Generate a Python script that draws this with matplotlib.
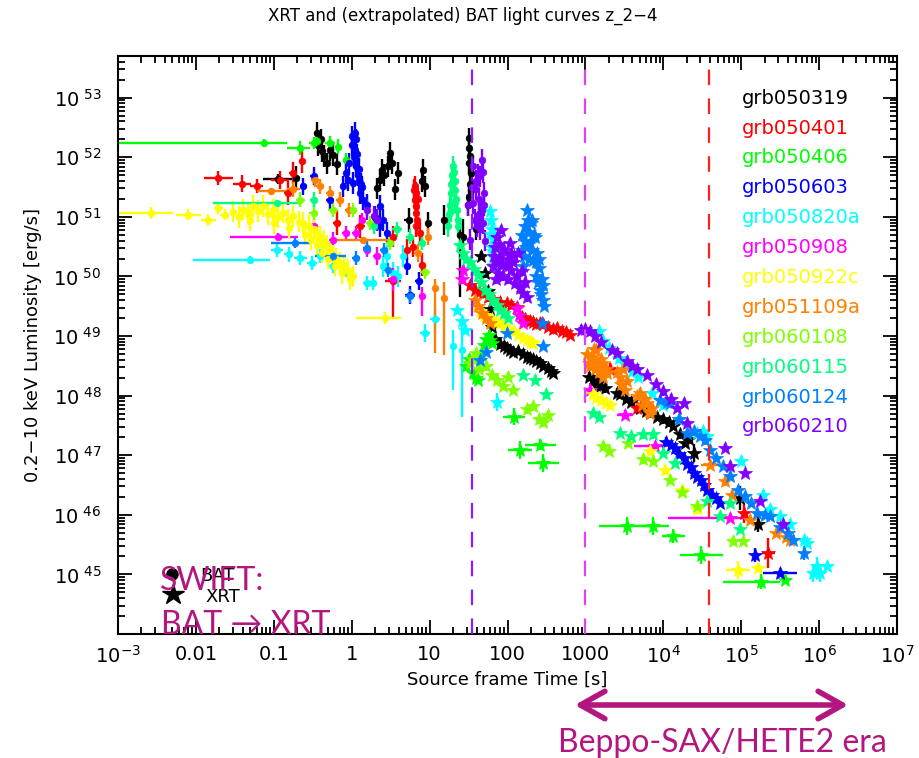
import numpy as np
import matplotlib
matplotlib.use("Agg")
import matplotlib.pyplot as plt
from matplotlib.ticker import LogLocator, NullFormatter
from matplotlib.patches import FancyArrowPatch

plt.rcParams['font.family'] = ['DejaVu Sans']
plt.rcParams['mathtext.fontset'] = 'dejavusans'

# ---------------- data (log10 t [s], log10 L [erg/s], errors in dex) ----------------
names = ['grb050319', 'grb050401', 'grb050406', 'grb050603', 'grb050820a', 'grb050908',
         'grb050922c', 'grb051109a', 'grb060108', 'grb060115', 'grb060124', 'grb060210']
colors = ['#000000', '#ff0000', '#00ff00', '#0000ff', '#00ffff', '#ff00ff',
          '#ffff00', '#ff8000', '#80ff00', '#00ff80', '#0080ff', '#8000ff']

BAT_050319 = [(-0.95, 51.64, 0.19, 0.25, 0.08), (-0.71, 51.65, 0.05, 0.05, 0.2),
              (-0.45, 52.41), (-0.43, 52.21), (-0.40, 52.30), (-0.385, 52.10), (-0.35, 52.02),
              (-0.32, 51.90), (-0.28, 52.12), (-0.24, 52.04), (-0.19, 51.88),
              (0.32, 51.48), (0.36, 51.62), (0.385, 51.79), (0.42, 51.70), (0.46, 51.85),
              (0.49, 52.08), (0.52, 51.90), (0.556, 51.46), (0.60, 51.74),
              (0.73, 50.95, 0.06, 0.06, 0.2), (0.90, 51.60), (0.92, 51.79), (0.94, 51.51),
              (0.98, 50.90), (1.18, 50.95, 0.04, 0.04, 0.25),
              (1.39, 50.70, 0.03, 0.03, 1.05, 0.2), (1.43, 50.67, 0.03, 0.03, 0.3),
              (1.49, 51.20), (1.50, 51.34), (1.51, 52.32), (1.52, 52.02), (1.52, 51.55),
              (1.53, 51.74), (1.51, 52.15), (1.50, 51.90), (1.53, 51.45), (1.60, 50.79)]
XRT_050319 = [(1.66, 50.35), (1.71, 50.05), (1.75, 49.75), (1.78, 49.45), (1.80, 49.15),
              (1.84, 48.95), (1.90, 48.86), (1.95, 48.84), (1.99, 48.80), (2.03, 48.77),
              (2.07, 48.74), (2.14, 48.75), (2.20, 48.70), (2.25, 48.65), (2.29, 48.63),
              (2.33, 48.62), (2.37, 48.58), (2.42, 48.55), (2.46, 48.50), (2.52, 48.46),
              (2.56, 48.42), (2.59, 48.38),
              (3.05, 48.32), (3.10, 48.27), (3.13, 48.18), (3.15, 48.22), (3.19, 48.16),
              (3.25, 48.12), (3.40, 48.05), (3.44, 48.02), (3.52, 47.95), (3.59, 47.90),
              (3.70, 47.80), (3.78, 47.74), (3.83, 47.71), (3.92, 47.65), (4.00, 47.60),
              (4.07, 47.55), (4.13, 47.49), (4.22, 47.35), (4.28, 47.21), (4.33, 47.28),
              (4.39, 47.04, 0.03, 0.15), (4.98, 46.28, 0.03, 0.2), (5.22, 45.84, 0.04, 0.12)]

BAT_050401 = [(-1.71, 51.65, 0.19, 0.19, 0.12), (-1.41, 51.56, 0.12, 0.12, 0.14),
              (-1.22, 51.52, 0.08, 0.08, 0.12), (-0.92, 51.62, 0.12, 0.12, 0.15),
              (-0.82, 51.40, 0.05, 0.05, 0.2), (-0.75, 51.74, 0.05, 0.05, 0.18),
              (-0.64, 51.93, 0.04, 0.04, 0.2), (-0.19, 50.90, 0.05, 0.05, 0.2),
              (0.11, 50.84, 0.06, 0.06, 0.2), (0.53, 50.67),
              (0.53, 49.92, 0.1, 0.1, 0.6, 0.15), (0.71, 50.45), (0.79, 50.50),
              (0.80, 51.45), (0.81, 51.51), (0.81, 51.29), (0.82, 51.40), (0.82, 51.18),
              (0.83, 51.07), (0.83, 50.84), (0.84, 50.95), (0.85, 51.30), (0.88, 50.73),
              (0.90, 50.20, 0.03, 0.03, 0.2)]
XRT_050401 = [(1.52, 49.86), (1.58, 49.78), (1.64, 49.74), (1.69, 49.72), (1.75, 49.65),
              (1.82, 49.62), (1.90, 49.58), (1.99, 49.55), (2.05, 49.52), (2.12, 49.48),
              (2.18, 49.32), (2.22, 49.28), (2.29, 49.26), (2.33, 49.24), (2.37, 49.20),
              (2.42, 49.22), (2.46, 49.20), (2.52, 49.15), (2.58, 49.12), (2.63, 49.14),
              (2.70, 49.08), (2.75, 49.06), (2.80, 49.02),
              (3.32, 48.44, 0.04, 0.1), (3.66, 47.79, 0.04, 0.1),
              (5.03, 46.03, 0.05, 0.17), (5.35, 45.36, 0.08, 0.25)]

BAT_050406 = [(-1.13, 52.24, 2.2, 0.30, 0.06), (-0.66, 52.16, 0.17, 0.12, 0.12),
              (-0.49, 52.24, 0.06, 0.06, 0.1), (-0.45, 52.27, 0.05, 0.05, 0.1),
              (-0.28, 52.24, 0.06, 0.06, 0.12), (-0.17, 52.18, 0.04, 0.04, 0.12),
              (-0.07, 51.96, 0.04, 0.04, 0.12)]
XRT_050406 = [(1.47, 48.49), (1.50, 48.62), (1.52, 48.55), (1.56, 48.38), (1.60, 48.30),
              (1.62, 48.27), (1.66, 48.70), (1.70, 48.85), (1.73, 48.95), (1.76, 49.02),
              (1.78, 48.94), (1.80, 48.88),
              (2.08, 47.65, 0.14, 0.14), (2.16, 47.09, 0.15, 0.15), (2.42, 47.18, 0.2, 0.1),
              (2.46, 46.87, 0.2, 0.15), (3.53, 45.81, 0.35, 0.15), (3.87, 45.81, 0.2, 0.15),
              (4.13, 45.64, 0.15, 0.12), (4.49, 45.33, 0.28, 0.15), (5.26, 44.88, 0.49, 0.24, 0.12),
              (5.56, 44.91, 0.04, 0.05)]

BAT_050603 = [(-0.62, 51.51, 0.05, 0.05, 0.15), (-0.49, 51.68, 0.05, 0.05, 0.15),
              (-0.28, 51.29, 0.05, 0.05, 0.15), (-0.11, 51.51), (-0.07, 51.74), (-0.03, 51.90),
              (0.00, 52.20), (0.02, 51.57), (0.03, 52.00), (0.04, 52.41), (0.04, 52.13),
              (0.05, 52.30), (0.06, 51.85), (0.07, 52.05), (0.08, 51.70), (0.10, 51.62),
              (0.11, 51.40), (0.13, 51.50), (0.15, 51.29), (0.20, 51.20), (0.30, 51.00),
              (0.01, 52.35), (0.05, 51.95), (0.09, 51.80), (0.12, 51.55), (-0.05, 51.62),
              (0.36, 51.18), (0.36, 50.84), (0.40, 50.95), (0.45, 50.73),
              (0.71, 50.17, 0.05, 0.05, 0.15), (0.75, 49.69, 0.06, 0.06, 0.15),
              (0.86, 49.92, 0.05, 0.05, 0.15)]
XRT_050603 = [(4.04, 47.23), (4.10, 47.18), (4.15, 47.12), (4.20, 47.02), (4.26, 46.95),
              (4.30, 46.85), (4.36, 46.81), (4.40, 46.70), (4.43, 46.64), (4.48, 46.58),
              (4.52, 46.50), (4.56, 46.42), (4.62, 46.34), (4.68, 46.28), (4.73, 46.20),
              (5.18, 45.33, 0.04, 0.12), (5.50, 45.03, 0.22, 0.05)]

BAT_050820a = [(-1.31, 50.28, 0.73, 0.26, 0.06), (-0.96, 50.45, 0.08, 0.08, 0.12),
               (-0.81, 50.37, 0.06, 0.06, 0.12), (-0.66, 50.31, 0.08, 0.08, 0.12),
               (-0.51, 50.23, 0.06, 0.06, 0.12), (-0.41, 50.34, 0.06, 0.06, 0.12),
               (-0.24, 50.17, 0.06, 0.06, 0.12), (-0.07, 50.11, 0.06, 0.06, 0.12),
               (0.19, 49.89, 0.05, 0.05, 0.12), (0.27, 49.89, 0.05, 0.05, 0.12),
               (0.40, 50.17), (0.45, 50.34), (0.53, 50.06), (0.60, 50.00), (0.66, 50.34),
               (0.94, 49.05, 0.06, 0.06, 0.15), (1.07, 49.28, 0.06, 0.06, 0.2),
               (1.30, 48.83, 0.03, 0.03, 0.73, 0.27), (1.41, 48.77, 0.03, 0.03, 1.12, 0.48)]
XRT_050820a = [(1.35, 49.44), (1.41, 49.25), (1.45, 49.10), (1.78, 51.10), (1.79, 50.95),
               (1.80, 50.80), (1.81, 50.65), (1.80, 50.50), (1.82, 50.35), (1.83, 50.20),
               (1.79, 50.72), (1.81, 50.42), (1.86, 47.90, 0.03, 0.15),
               (3.17, 49.08), (3.23, 48.91), (3.30, 48.80), (3.43, 48.63), (3.49, 48.55),
               (3.60, 48.42), (3.68, 48.32), (3.85, 48.05), (4.00, 47.85), (4.20, 47.60),
               (4.43, 47.37), (4.51, 47.40), (4.56, 47.32), (5.00, 46.90), (5.28, 46.34),
               (5.37, 46.09), (5.50, 45.98), (5.63, 45.84), (5.80, 45.58), (5.84, 45.53),
               (5.92, 45.03, 0.03, 0.15), (5.97, 45.14, 0.03, 0.15), (6.01, 45.03, 0.03, 0.15),
               (6.10, 45.14)]

BAT_050908 = [(-0.94, 50.67, 0.62, 0.25, 0.06), (-0.49, 50.84, 0.05, 0.05, 0.12),
              (-0.24, 50.62, 0.05, 0.05, 0.12), (-0.07, 50.73, 0.05, 0.05, 0.12),
              (0.06, 50.73, 0.05, 0.05, 0.12), (0.13, 50.95, 0.04, 0.04, 0.12),
              (0.19, 50.45, 0.05, 0.05, 0.12), (0.32, 50.34, 0.05, 0.05, 0.15),
              (0.53, 49.95, 0.06, 0.06, 0.2), (0.90, 49.67, 0.03, 0.03, 0.34, 0.16)]
XRT_050908 = [(1.41, 49.95), (1.43, 50.11), (2.12, 49.47), (2.15, 49.35), (2.20, 49.22),
              (3.06, 48.10, 0.06, 0.08), (3.51, 47.68, 0.1, 0.08),
              (3.89, 47.15, 0.27, 0.16, 0.06), (4.86, 45.95, 0.80, 0.25, 0.06)]

BAT_050922c = [(-2.57, 51.07, 0.45, 0.28, 0.1), (-2.10, 51.04, 0.16, 0.16, 0.1),
               (-1.84, 50.95, 0.1, 0.1, 0.1), (-1.71, 51.15, 0.06, 0.06, 0.1),
               (-1.63, 51.04, 0.06, 0.06, 0.1), (-1.52, 51.09), (-1.45, 51.00), (-1.40, 51.12),
               (-1.33, 51.05), (-1.27, 51.18), (-1.20, 51.10), (-1.14, 51.18), (-1.08, 51.05),
               (-1.01, 51.12), (-0.95, 51.00), (-0.88, 51.07), (-0.82, 50.95), (-0.75, 51.01),
               (-0.68, 50.92), (-0.62, 50.90), (-0.55, 50.85), (-0.49, 50.79), (-0.45, 50.70),
               (-0.41, 50.67), (-0.36, 50.60), (-0.32, 50.51), (-0.28, 50.42), (-0.24, 50.34),
               (-0.20, 50.30), (-0.15, 50.23), (-0.10, 50.18), (-0.05, 50.11), (0.02, 50.00),
               (-0.60, 50.70), (-0.52, 50.62), (-0.44, 50.52), (-0.38, 50.40), (-0.30, 50.30),
               (-0.22, 50.18), (-0.12, 50.05), (-0.02, 49.95), (-1.30, 50.95), (-1.00, 50.90),
               (-0.80, 50.82), (0.43, 49.30, 0.38, 0.20, 0.1)]
XRT_050922c = [(1.60, 49.50), (1.65, 49.42), (1.70, 49.36), (1.73, 49.33), (1.80, 49.28),
               (1.86, 49.24), (1.90, 49.22), (1.95, 49.17), (2.00, 49.12), (2.08, 49.08),
               (2.14, 49.02), (2.20, 48.97), (2.25, 48.94), (2.30, 48.90), (2.33, 48.88),
               (3.10, 48.02), (3.14, 47.96), (3.20, 47.92), (3.27, 47.88), (3.32, 47.84),
               (3.83, 47.07), (4.02, 46.76), (4.24, 46.42), (4.43, 46.09),
               (4.96, 45.08, 0.15, 0.15), (5.22, 45.11)]

BAT_051109a = [(-1.03, 51.43, 0.19, 0.19, 0.06), (-0.75, 51.46, 0.08, 0.08, 0.12),
               (-0.47, 51.62, 0.05, 0.05, 0.12), (-0.41, 51.51, 0.05, 0.05, 0.12),
               (-0.28, 51.40, 0.05, 0.05, 0.12), (-0.15, 51.29, 0.05, 0.05, 0.12),
               (-0.03, 51.12, 0.05, 0.05, 0.12), (0.15, 50.62, 0.39, 0.38, 0.05),
               (0.85, 50.40, 0.05, 0.05, 0.15), (0.98, 50.67, 0.04, 0.04, 0.15),
               (1.07, 49.81, 0.03, 0.03, 1.1, 0.15), (1.18, 49.64, 0.03, 0.03, 0.95, 0.26)]
XRT_051109a = [(1.58, 49.61), (1.62, 49.50), (1.67, 49.39), (1.72, 49.30), (1.78, 49.22),
               (3.02, 48.70), (3.04, 48.55), (3.06, 48.49), (3.08, 48.65), (3.10, 48.60),
               (3.11, 48.78), (3.12, 48.45), (3.14, 48.77), (3.16, 48.50), (3.18, 48.40),
               (3.20, 48.62), (3.22, 48.55), (3.23, 48.32), (3.26, 48.45), (3.28, 48.38),
               (3.40, 48.40), (3.44, 48.32), (3.46, 48.20), (3.48, 48.45), (3.51, 48.10),
               (3.54, 48.25), (3.66, 47.99), (3.70, 48.05), (3.73, 47.85), (3.76, 47.95),
               (3.79, 47.88), (3.82, 47.75), (3.83, 47.71), (3.86, 47.80),
               (4.60, 46.84, 0.12, 0.05), (4.79, 46.56), (4.88, 46.34), (5.11, 45.92),
               (5.45, 45.70), (5.58, 45.62), (5.63, 45.58)]

BAT_060108 = [(-0.66, 51.29, 0.06, 0.06, 0.12), (-0.49, 51.07, 0.06, 0.06, 0.12),
              (-0.24, 51.12, 0.06, 0.06, 0.12), (0.02, 51.12, 0.05, 0.05, 0.12),
              (0.23, 50.90, 0.05, 0.05, 0.12), (0.49, 50.56, 0.05, 0.05, 0.12),
              (0.94, 50.08, 0.06, 0.06, 0.12)]
XRT_060108 = [(1.52, 48.55), (1.56, 48.62), (1.60, 48.71), (1.64, 48.45), (1.73, 48.49),
              (1.80, 48.35), (1.86, 48.27), (1.94, 48.16), (2.01, 48.32), (2.07, 48.10),
              (2.25, 47.77), (2.33, 47.82), (2.40, 47.60), (2.46, 47.55), (2.52, 47.68),
              (3.23, 47.15), (3.30, 47.07), (3.55, 47.21), (3.74, 46.93), (3.87, 46.90),
              (4.09, 46.59), (4.24, 46.39), (4.43, 46.14), (4.90, 45.56), (5.02, 45.56)]

BAT_060115 = [(-0.96, 51.23, 0.82, 0.30, 0.05), (-0.49, 51.29, 0.05, 0.05, 0.12),
              (0.28, 50.84, 0.06, 0.06, 0.12), (0.58, 50.79, 0.06, 0.06, 0.12),
              (0.75, 50.67, 0.05, 0.05, 0.12), (0.90, 50.56, 0.05, 0.05, 0.12),
              (1.24, 50.85), (1.25, 51.05), (1.26, 51.20), (1.27, 51.40), (1.28, 51.55),
              (1.29, 51.70), (1.30, 51.85), (1.31, 51.75), (1.32, 51.60), (1.33, 51.45),
              (1.34, 51.30), (1.35, 51.12), (1.36, 50.95), (1.37, 50.85), (1.28, 51.10),
              (1.32, 51.25)]
XRT_060115 = [(1.39, 50.53), (1.43, 50.40), (1.47, 50.30), (1.52, 50.25), (1.57, 50.12),
              (1.62, 50.03), (1.66, 49.90), (1.71, 49.78), (1.76, 49.70), (1.81, 49.61),
              (1.86, 49.52), (1.90, 49.44), (1.95, 49.38), (2.01, 49.31),
              (2.20, 48.35), (2.35, 48.27), (2.50, 48.02), (3.10, 47.71), (3.17, 47.65),
              (3.44, 47.37), (3.59, 47.32), (3.74, 47.35), (3.87, 47.35), (4.00, 47.04),
              (4.15, 46.87), (4.56, 46.23), (4.73, 45.98), (4.86, 46.20), (4.98, 45.76)]

BAT_060124 = [(-0.73, 50.56, 0.30, 0.20, 0.08), (-0.24, 50.34, 0.23, 0.17, 0.08),
              (0.06, 50.31, 0.05, 0.05, 0.12), (0.19, 50.48, 0.05, 0.05, 0.12),
              (0.41, 50.45, 0.05, 0.05, 0.12), (0.47, 50.11, 0.05, 0.05, 0.12),
              (0.75, 49.67, 0.06, 0.06, 0.12)]
XRT_060124 = [(1.65, 48.60), (1.73, 48.74), (1.99, 49.05), (2.46, 48.83),
              (2.18, 50.45), (2.19, 50.70), (2.20, 50.17), (2.21, 50.35), (2.22, 50.60),
              (2.23, 50.84), (2.24, 50.50), (2.25, 51.12), (2.26, 50.95), (2.27, 50.30),
              (2.28, 50.75), (2.29, 50.56), (2.30, 50.90), (2.31, 50.95), (2.32, 50.45),
              (2.33, 50.28), (2.34, 50.70), (2.35, 50.67), (2.36, 50.25), (2.37, 50.00),
              (2.38, 50.40), (2.39, 49.90), (2.40, 50.15), (2.41, 50.30), (2.42, 49.78),
              (2.43, 49.70), (2.44, 49.95), (2.45, 49.85), (2.46, 49.61), (2.47, 49.50),
              (2.44, 49.22),
              (3.96, 47.93), (4.05, 47.90), (4.09, 47.88), (4.20, 47.60), (4.30, 47.37),
              (4.40, 47.40), (4.47, 47.32), (4.53, 47.25), (4.60, 47.09), (4.68, 46.95),
              (4.77, 46.82), (4.85, 46.65), (4.96, 46.42), (5.05, 46.31), (5.12, 46.20),
              (5.20, 46.03), (5.30, 46.00), (5.37, 45.98), (5.50, 45.80), (5.60, 45.70),
              (5.67, 45.58), (5.80, 45.36, 0.03, 0.12)]

BAT_060210 = [(0.19, 51.12), (0.28, 51.01), (0.33, 50.95),
              (1.49, 51.20), (1.52, 50.62), (1.54, 51.50), (1.56, 51.85), (1.56, 51.23),
              (1.58, 50.95), (1.60, 51.46), (1.62, 51.70), (1.64, 51.30), (1.65, 51.68),
              (1.65, 50.79), (1.66, 51.10), (1.67, 51.96), (1.67, 51.12), (1.69, 50.90),
              (1.70, 51.40), (1.71, 50.60), (1.59, 51.60), (1.63, 51.05), (1.68, 51.75),
              (1.61, 50.85), (1.70, 51.20)]
XRT_060210 = [(1.82, 50.17), (1.83, 50.35), (1.84, 50.50), (1.85, 49.95), (1.86, 50.67),
              (1.87, 50.25), (1.88, 50.05), (1.89, 50.55), (1.90, 50.34), (1.92, 50.78),
              (1.93, 50.20), (1.94, 50.00), (1.96, 50.45), (1.98, 50.20), (2.00, 49.95),
              (2.01, 50.30), (2.03, 50.56), (2.04, 50.40), (2.05, 50.11), (2.07, 50.25),
              (2.08, 50.34), (2.10, 49.89), (2.12, 50.00), (2.14, 50.40), (2.16, 49.80),
              (2.18, 50.10), (2.20, 49.72), (2.22, 49.90), (2.25, 49.65),
              (2.94, 49.11), (3.00, 49.12), (3.06, 49.08), (3.12, 49.00), (3.20, 48.90),
              (3.34, 48.77), (3.40, 48.72), (3.53, 48.58), (3.60, 48.50), (3.66, 48.44),
              (3.79, 48.35), (3.90, 48.20), (4.00, 48.07), (4.10, 47.95), (4.17, 47.79),
              (4.26, 47.88), (4.30, 47.54), (4.79, 47.12), (4.86, 46.82), (5.05, 46.70),
              (5.24, 46.23), (5.54, 45.84)]

bat_sets = [BAT_050319, BAT_050401, BAT_050406, BAT_050603, BAT_050820a, BAT_050908,
            BAT_050922c, BAT_051109a, BAT_060108, BAT_060115, BAT_060124, BAT_060210]
xrt_sets = [XRT_050319, XRT_050401, XRT_050406, XRT_050603, XRT_050820a, XRT_050908,
            XRT_050922c, XRT_051109a, XRT_060108, XRT_060115, XRT_060124, XRT_060210]

vlines_t = [35.0, 1000.0, 3.9e4]
vlines_c = ['#8a1cff', '#e040f0', '#ff2020']

xtick_labels = [r'$10^{-3}$', '0.01', '0.1', '1', '10', '100', '1000',
                r'$10^4$', r'$10^5$', r'$10^6$', r'$10^7$']
ytick_exps = [45, 46, 47, 48, 49, 50, 51, 52, 53]

ANN = '#b3177f'


def unpack(rows, dex, dey):
    out = []
    for r in rows:
        if len(r) == 2:
            out.append((r[0], r[1], dex, dex, dey, dey))
        elif len(r) == 4:
            out.append((r[0], r[1], r[2], r[2], r[3], r[3]))
        elif len(r) == 5:
            out.append((r[0], r[1], r[2], r[3], r[4], r[4]))
        else:
            out.append(tuple(r))
    return np.array(out).T


fig = plt.figure(figsize=(9.2, 7.58), dpi=100)
ax = fig.add_axes([118 / 920, 1 - 634 / 758, 779 / 920, 578 / 758])
ax.set_xscale('log')
ax.set_yscale('log')


def draw(rows, color, marker, ms, dex, dey):
    lt, lL, exm, exp_, eym, eyp = unpack(rows, dex, dey)
    t = 10 ** lt
    L = 10 ** lL
    ax.errorbar(t, L,
                xerr=[t - 10 ** (lt - exm), 10 ** (lt + exp_) - t],
                yerr=[L - 10 ** (lL - eym), 10 ** (lL + eyp) - L],
                fmt=marker, ms=ms, color=color, mec=color, mfc=color, mew=0.5,
                elinewidth=1.7, capsize=0, ls='none')


for bat, xrt, c in zip(bat_sets, xrt_sets, colors):
    draw(bat, c, 'o', 4.8, 0.03, 0.18)
    draw(xrt, c, '*', 10, 0.03, 0.07)

for t, c in zip(vlines_t, vlines_c):
    ax.axvline(t, color=c, lw=1.6, ls=(0, (7, 6)), zorder=5)

ax.set_xlim(1e-3, 1e7)
ax.set_ylim(1e44, 10 ** 53.7)

ax.set_xticks(10.0 ** np.arange(-3, 8))
ax.set_xticklabels(xtick_labels)
ax.set_yticks([10.0 ** e for e in ytick_exps])
ax.set_yticklabels([r'$10^{\ %d}$' % e for e in ytick_exps])
ax.xaxis.set_minor_locator(LogLocator(base=10, subs=np.arange(2, 10), numticks=100))
ax.yaxis.set_minor_locator(LogLocator(base=10, subs=np.arange(2, 10), numticks=100))
ax.xaxis.set_minor_formatter(NullFormatter())
ax.yaxis.set_minor_formatter(NullFormatter())
ax.tick_params(which='both', direction='in', top=True, right=True, width=1.3, labelsize=14)
ax.tick_params(which='major', length=10)
ax.tick_params(which='minor', length=5)
ax.tick_params(axis='x', pad=8)
ax.tick_params(axis='y', pad=12)
for s in ax.spines.values():
    s.set_linewidth(1.5)

# legend of GRB names
for i, (n, c) in enumerate(zip(names, colors)):
    ax.text(0.801, 0.927 - i * 0.0517, n, color=c, fontsize=14,
            transform=ax.transAxes, va='center', ha='left')

# BAT / XRT symbol key (partly covered by the SWIFT annotation, as in the original)
ax.plot([0.0693], [0.104], 'o', color='k', ms=8, transform=ax.transAxes, clip_on=False)
ax.plot([0.0700], [0.069], '*', color='k', ms=16, transform=ax.transAxes, clip_on=False)
ax.text(0.105, 0.100, 'BAT', color='k', fontsize=13, transform=ax.transAxes, va='center')
ax.text(0.112, 0.064, 'XRT', color='k', fontsize=13, transform=ax.transAxes, va='center')

fig.text(160 / 920, 1 - 590 / 758, 'SWIFT:', color=ANN, fontsize=23,
         family=['Lato', 'DejaVu Sans'], va='baseline', ha='left')
fig.text(161 / 920, 1 - 634 / 758, 'BAT \u2192 XRT', color=ANN, fontsize=23,
         family=['Lato', 'DejaVu Sans'], va='baseline', ha='left')
fig.text(558 / 920, 1 - 752 / 758, 'Beppo-SAX/HETE2 era', color=ANN, fontsize=23,
         family=['Lato', 'DejaVu Sans'], va='baseline', ha='left')

arr = FancyArrowPatch((572 / 920, 1 - 705 / 758), (851 / 920, 1 - 705 / 758),
                      transform=fig.transFigure, arrowstyle='<->,head_length=0.8,head_width=0.45',
                      mutation_scale=22, color=ANN, lw=4)
fig.add_artist(arr)

fig.text(463 / 920, 1 - 16 / 758, 'XRT and (extrapolated) BAT light curves z_2\u22124',
         fontsize=12, ha='center', va='center')
fig.text(507 / 920, 1 - 680 / 758, 'Source frame Time [s]', fontsize=13,
         ha='center', va='center')
fig.text(33 / 920, 1 - 345 / 758, '0.2\u221210 keV Luminosity [erg/s]', fontsize=13,
         ha='center', va='center', rotation=90)

fig.savefig('out.png', dpi=100)
